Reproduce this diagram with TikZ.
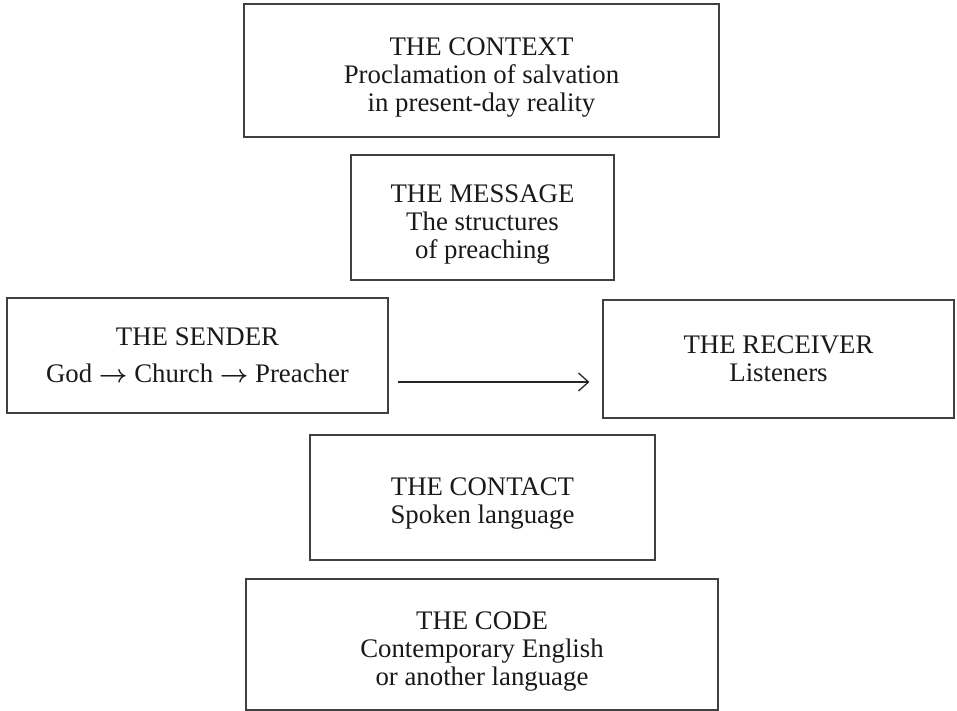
\documentclass[tikz,border=0pt]{standalone}
\usepackage{fontspec}
\setmainfont{Liberation Serif}
\usetikzlibrary{arrows.meta}
\begin{document}
\begin{tikzpicture}[x=1pt,y=-1pt,
  boxnode/.style={draw=black!75, line width=1.1pt, rectangle, inner sep=0pt},
  labeltext/.style={inner sep=0pt, align=center,
    font=\fontsize{26.8}{28}\selectfont, text=black!90},
  flowarrow/.style={line width=1.2pt, draw=black!85, -{Straight Barb[length=10pt,width=18pt,line width=1.3pt]}}]
\useasboundingbox (0,0) rectangle (957,711);
\node[boxnode, minimum width=475pt, minimum height=133pt] (context) at (481.5,70.5) {};
\node[labeltext] (contextT) at ([yshift=-7pt]context.center)
  {THE CONTEXT\\Proclamation of salvation\\in present-day reality};
\node[boxnode, minimum width=263pt, minimum height=125pt] (message) at (482.5,217.5) {};
\node[labeltext] (messageT) at ([yshift=-7pt]message.center)
  {THE MESSAGE\\The structures\\of preaching};
\node[boxnode, minimum width=381pt, minimum height=115pt] (sender) at (197.5,355.5) {};
\node[labeltext] (senderT) at (sender.center)
  {THE SENDER\\[9pt]God {\boldmath$\rightarrow$} Church {\boldmath$\rightarrow$} Preacher};
\node[boxnode, minimum width=351pt, minimum height=118pt] (receiver) at (778.5,359) {};
\node[labeltext] (receiverT) at (receiver.center)
  {THE RECEIVER\\Listeners};
\node[boxnode, minimum width=345pt, minimum height=125pt] (contact) at (482.5,497.5) {};
\node[labeltext] (contactT) at ([yshift=-6pt]contact.center)
  {THE CONTACT\\Spoken language};
\node[boxnode, minimum width=472pt, minimum height=131pt] (code) at (482,644.5) {};
\node[labeltext] (codeT) at ([yshift=-7pt]code.center)
  {THE CODE\\Contemporary English\\or another language};
\coordinate (arrY) at (0,382);
\draw[flowarrow] ([xshift=9pt]sender.east |- arrY) -- ([xshift=-13pt]receiver.west |- arrY);
\end{tikzpicture}
\end{document}
